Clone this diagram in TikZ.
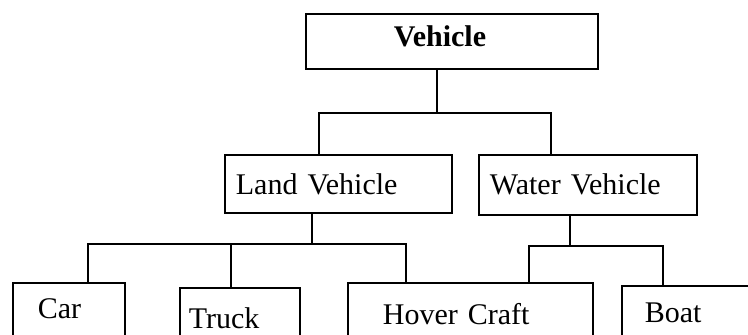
\documentclass[tikz,border=0pt]{standalone}
\usepackage{fontspec}
\setmainfont{Liberation Serif}
\begin{document}
\begin{tikzpicture}[x=1pt,y=-1pt,line width=1.8pt]
\path[use as bounding box,clip] (0,0) rectangle (748,335);
\begin{scope}[every node/.style = {draw, anchor=north west, align=left, font=\fontsize{30}{36}\selectfont, text height=22pt}]
\node[text width=116pt, inner xsep=88pt, inner ysep=11pt, text depth=11pt, font=\fontsize{30}{36}\selectfont\bfseries] (Vehicle) at (305, 13) {Vehicle};
\node[text width=205pt, inner xsep=11pt, inner ysep=18pt, text depth=0pt] (Land) at (224, 154) {Land Vehicle};
\node[text width=196pt, inner xsep=11pt, inner ysep=18pt, text depth=2pt] (Water) at (478, 154) {Water Vehicle};
\node[text width=62pt, inner xsep=25pt, inner ysep=14pt, text depth=20pt] (Car) at (12, 282) {Car};
\node[text width=102pt, inner xsep=9pt, inner ysep=19pt, text depth=10pt] (Truck) at (179, 287) {Truck};
\node[text width=175pt, inner xsep=35pt, inner ysep=20pt, text depth=8pt] (Hover) at (347, 282) {Hover Craft};
\node[text width=104pt, inner xsep=23pt, inner ysep=15pt, text depth=18pt] (Boat) at (621, 285) {Boat};
\end{scope}
\coordinate (top) at (437, 113);
\coordinate (topL) at (319, 113);
\coordinate (topR) at (551, 113);
\coordinate (land) at (312, 244);
\coordinate (landL) at (88, 244);
\coordinate (landM) at (231, 244);
\coordinate (landR) at (406, 244);
\coordinate (water) at (570, 246);
\coordinate (waterL) at (529, 246);
\coordinate (waterR) at (663, 246);
\draw (Vehicle.south -| top) -- (top);
\draw (Land.north -| topL) -- (topL) -- (topR) -- (Water.north -| topR);
\draw (Land.south -| land) -- (land);
\draw (Car.north -| landL) -- (landL) -- (landR) -- (Hover.north -| landR);
\draw (landM) -- (Truck.north -| landM);
\draw (Water.south -| water) -- (water);
\draw (Hover.north -| waterL) -- (waterL) -- (waterR) -- (Boat.north -| waterR);
\end{tikzpicture}
\end{document}
